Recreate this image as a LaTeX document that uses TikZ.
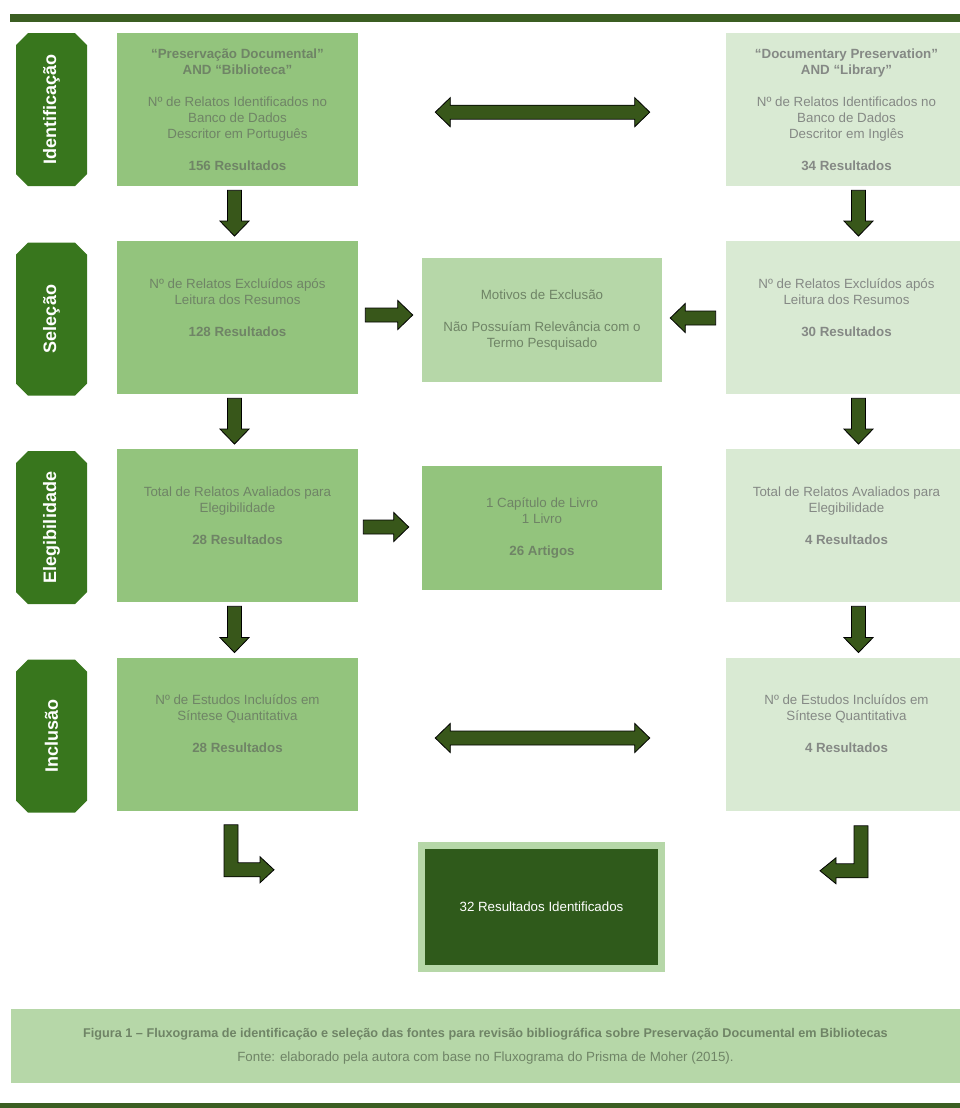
\documentclass[tikz,border=0pt]{standalone}
\usepackage{fontspec}
\setmainfont{Liberation Sans}
\usepackage{tikz}
\usetikzlibrary{calc}
\usetikzlibrary{shapes.misc}
\definecolor{phasegreen}{HTML}{38761D}
\definecolor{leftgreen}{HTML}{93C47D}
\definecolor{midgreen}{HTML}{B6D7A8}
\definecolor{rightgreen}{HTML}{D9EAD3}
\definecolor{darkgreen}{HTML}{2F5A1B}
\definecolor{arrowgreen}{HTML}{38571A}
\definecolor{bargreen}{HTML}{3B5E22}
\definecolor{txtleft}{HTML}{6F8466}
\definecolor{txtright}{HTML}{858985}
\tikzstyle{phase}=[chamfered rectangle, chamfered rectangle xsep=4.5pt, chamfered rectangle ysep=4.5pt, inner sep=0pt, fill=phasegreen, text=white, font=\fontsize{13.5}{16}\selectfont\bfseries, rotate=90, minimum width=114.75pt, minimum height=53.25pt]
\tikzstyle{box}=[rectangle, inner sep=0pt, align=center, font=\fontsize{10}{12}\selectfont]
\tikzstyle{lbox}=[box, fill=leftgreen, text=txtleft, minimum width=180.75pt, minimum height=114.75pt]
\tikzstyle{rbox}=[box, fill=rightgreen, text=txtright, minimum width=180.75pt, minimum height=114.75pt]
\tikzstyle{mbox}=[box, fill=midgreen, text=txtleft, minimum width=180pt, minimum height=93pt]
\tikzstyle{res}=[box, fill=darkgreen, draw=midgreen, line width=5.25pt, text=white, minimum width=180pt, minimum height=92.25pt]
\tikzstyle{capbox}=[box, fill=midgreen, text=txtleft, font=\fontsize{10}{18}\selectfont, minimum width=711.75pt, minimum height=55.5pt]
\tikzstyle{blk}=[fill=arrowgreen, draw=black, line width=0.6pt]
\newcommand\blockarrow[2]{\draw[blk] let \p1=(#1), \p2=(#2), \n1={atan2(\y2-\y1,\x2-\x1)}, \n2={veclen(\x2-\x1,\y2-\y1)} in
  {[shift={(\p1)}, rotate=\n1] (0pt,-5.25pt) -- ({\n2*1pt-11.25pt},-5.25pt) -- ({\n2*1pt-11.25pt},-10.9pt) -- ({\n2*1pt},0pt) -- ({\n2*1pt-11.25pt},10.9pt) -- ({\n2*1pt-11.25pt},5.25pt) -- (0pt,5.25pt) -- cycle};}
\newcommand\twowayarrow[2]{\draw[blk] let \p1=(#1), \p2=(#2), \n1={atan2(\y2-\y1,\x2-\x1)}, \n2={veclen(\x2-\x1,\y2-\y1)} in
  {[shift={(\p1)}, rotate=\n1] (0pt,0pt) -- (11.25pt,10.9pt) -- (11.25pt,5.25pt) -- ({\n2*1pt-11.25pt},5.25pt) -- ({\n2*1pt-11.25pt},10.9pt) -- ({\n2*1pt},0pt) -- ({\n2*1pt-11.25pt},-10.9pt) -- ({\n2*1pt-11.25pt},-5.25pt) -- (11.25pt,-5.25pt) -- (11.25pt,-10.9pt) -- cycle};}

\begin{document}
\begin{tikzpicture}[x=0.75pt, y=-0.75pt]
	\useasboundingbox (0,0) rectangle (960,1108);
	\fill[bargreen] (10,14) rectangle (960,22);
	\fill[bargreen] (0,1103) rectangle (960,1108);
	\draw (51.5,109.5) node[phase] (P1) {Identificação};
	\draw (51.5,319) node[phase] (P2) {Seleção};
	\draw (51.5,527.5) node[phase] (P3) {Elegibilidade};
	\draw (51.5,736) node[phase] (P4) {Inclusão};
	\draw (237.5,109.5) node[lbox] (L1) {\textbf{“Preservação Documental”}\\ \textbf{AND “Biblioteca”}\\[12pt] Nº de Relatos Identificados no\\ Banco de Dados\\ Descritor em Português\\[12pt] \textbf{156 Resultados}};
	\draw (237.5,317.5) node[lbox] (L2) {Nº de Relatos Excluídos após\\ Leitura dos Resumos\\[12pt] \textbf{128 Resultados}\\[3pt] \mbox{}};
	\draw (237.5,525.5) node[lbox] (L3) {Total de Relatos Avaliados para\\ Elegibilidade\\[12pt] \textbf{28 Resultados}\\[3pt] \mbox{}};
	\draw (237.5,734) node[lbox] (L4) {Nº de Estudos Incluídos em\\ Síntese Quantitativa\\[12pt] \textbf{28 Resultados}\\[3pt] \mbox{}};
	\draw (846.5,109.5) node[rbox] (R1) {\textbf{“Documentary Preservation”}\\ \textbf{AND “Library”}\\[12pt] Nº de Relatos Identificados no\\ Banco de Dados\\ Descritor em Inglês\\[12pt] \textbf{34 Resultados}};
	\draw (846.5,317.5) node[rbox] (R2) {Nº de Relatos Excluídos após\\ Leitura dos Resumos\\[12pt] \textbf{30 Resultados}\\[3pt] \mbox{}};
	\draw (846.5,525.5) node[rbox] (R3) {Total de Relatos Avaliados para\\ Elegibilidade\\[12pt] \textbf{4 Resultados}\\[3pt] \mbox{}};
	\draw (846.5,734) node[rbox] (R4) {Nº de Estudos Incluídos em\\ Síntese Quantitativa\\[12pt] \textbf{4 Resultados}\\[3pt] \mbox{}};
	\draw (542,320) node[mbox] (M1) {Motivos de Exclusão\\[12pt] Não Possuíam Relevância com o\\ Termo Pesquisado};
	\draw (542,527.5) node[mbox, fill=leftgreen] (M2) {1 Capítulo de Livro\\ 1 Livro\\[12pt] \textbf{26 Artigos}};
	\draw (541.5,907) node[res] (F) {32 Resultados Identificados};
	\draw (485.5,1046) node[capbox] (C) {{\fontsize{9.5}{18}\selectfont\textbf{Figura 1 – Fluxograma de identificação e seleção das fontes para revisão bibliográfica sobre Preservação Documental em Bibliotecas}}\\ Fonte: elaborado pela autora com base no Fluxograma do Prisma de Moher (2015).};
	\blockarrow{[xshift=-2.25pt, yshift=-3pt]L1.south}{[xshift=-2.25pt, yshift=3.5pt]L2.north}
	\blockarrow{[xshift=-2.25pt, yshift=-3pt]L2.south}{[xshift=-2.25pt, yshift=3.5pt]L3.north}
	\blockarrow{[xshift=-2.25pt, yshift=-3pt]L3.south}{[xshift=-2.25pt, yshift=3.5pt]L4.north}
	\blockarrow{[xshift=9pt, yshift=-3pt]R1.south}{[xshift=9pt, yshift=3.5pt]R2.north}
	\blockarrow{[xshift=9pt, yshift=-3pt]R2.south}{[xshift=9pt, yshift=3.5pt]R3.north}
	\blockarrow{[xshift=9pt, yshift=-3pt]R3.south}{[xshift=9pt, yshift=3.5pt]R4.north}
	\blockarrow{$(L2.east)+(7,-2.5)$}{$(M1.west)+(-9,-5)$}
	\blockarrow{$(R2.west)+(-10,0.5)$}{$(M1.east)+(8,-2)$}
	\blockarrow{$(L3.east)+(5,1.5)$}{$(M2.west)+(-13,-0.5)$}
	\twowayarrow{[xshift=57.75pt, yshift=-2pt]L1.east}{[xshift=-57pt, yshift=-2pt]R1.west}
	\twowayarrow{[xshift=57.75pt, yshift=-3pt]L4.east}{[xshift=-57pt, yshift=-3pt]R4.west}
	\draw[blk] ($(L4.south)+(-13.5,14)$) -- ++(14,0) -- ++(0,38) -- ++(22,0) -- ++(0,-6) -- ++(14,13) -- ++(-14,13) -- ++(0,-6) -- ++(-36,0) -- cycle;
	\draw[blk] ($(R4.south)+(21.5,15)$) -- ++(0,52) -- ++(-32,0) -- ++(0,6) -- ++(-16,-13) -- ++(16,-13) -- ++(0,6) -- ++(18,0) -- ++(0,-38) -- cycle;
\end{tikzpicture}
\end{document}
